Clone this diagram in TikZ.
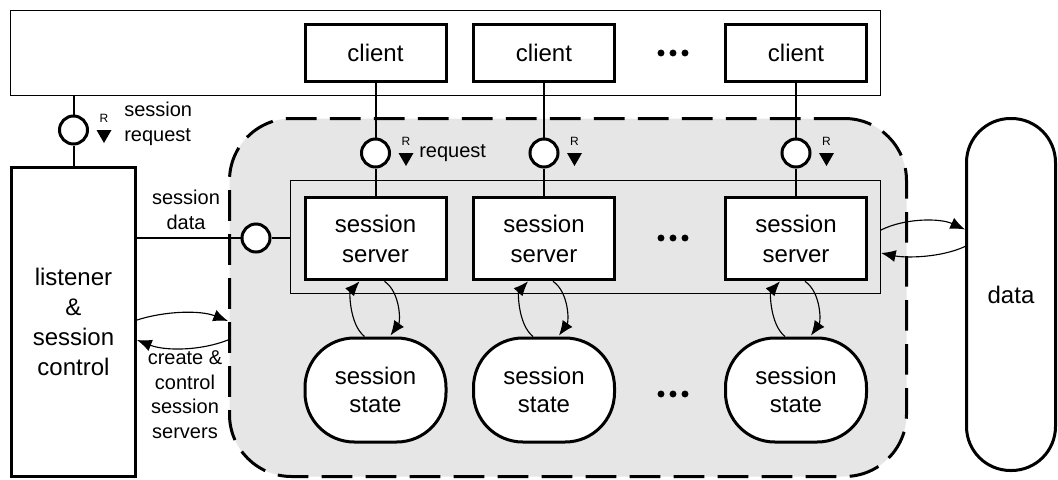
\documentclass[tikz,border=0pt]{standalone}
\usepackage{fontspec}
\setmainfont{Liberation Sans}
\usetikzlibrary{arrows.meta,calc}
\definecolor{poolgray}{RGB}{230,230,230}
% request marker: "R" over a small down-pointing triangle beside a lollipop
\newcommand\reqmark[2]{%
  \node[rlabel] (#2) at ($(#1)+(30.5,-12)$) {R};
  \fill ($(#1)+(23,0)$) -- ($(#1)+(38,0)$) -- ($(#1)+(30.5,13)$) -- cycle;}
\begin{document}
\begin{tikzpicture}[x=0.75pt,y=-0.75pt,
  thickbox/.style={draw,line width=2.25pt,fill=white,inner sep=0pt,align=center,
    font=\fontsize{18}{22.5}\selectfont},
  clientbox/.style={thickbox,minimum width=105.75pt,minimum height=42.75pt},
  serverbox/.style={thickbox,minimum width=105.75pt,minimum height=62pt},
  statebox/.style={thickbox,rounded corners=37pt,minimum width=105.75pt,
    minimum height=78pt,font=\fontsize{18}{21}\selectfont},
  lolli/.style={circle,draw,line width=2.25pt,fill=white,minimum size=21pt,inner sep=0pt},
  wire/.style={line width=1.5pt},
  hairbox/.style={draw,line width=0.75pt,inner sep=0pt},
  flow/.style={line width=0.85pt,-{Latex[length=11pt,width=9pt]}},
  smalltext/.style={font=\fontsize{15}{18.4}\selectfont,inner sep=0pt,align=center},
  rlabel/.style={font=\fontsize{9}{10}\selectfont,inner sep=0pt},
]
\useasboundingbox (0,0) rectangle (1058,479);

% shaded session-server domain
\node[draw,fill=poolgray,line width=2.25pt,dash pattern=on 23pt off 10pt,
  rounded corners=46.5pt,minimum width=507.75pt,minimum height=268.5pt,inner sep=0pt]
  (pool) at (568,297.5) {};

% client area and server group frames
\node[hairbox,minimum width=652.5pt,minimum height=63.75pt] (clients) at (445.5,53) {};
\node[hairbox,minimum width=442.5pt,minimum height=84.75pt] (grp) at (585.5,237) {};

% clients
\node[clientbox] (cl1) at (375.5,53) {client};
\node[clientbox] (cl2) at (544,53) {client};
\node[clientbox] (cl3) at (796,53) {client};

% session servers
\node[serverbox] (sv1) at (375.5,238.5) {session\\server};
\node[serverbox] (sv2) at (544,238.5) {session\\server};
\node[serverbox] (sv3) at (796,238.5) {session\\server};

% session states
\node[statebox] (st1) at (375.5,390) {session\\state};
\node[statebox] (st2) at (544,390) {session\\state};
\node[statebox] (st3) at (796,390) {session\\state};

% listener and data store
\node[thickbox,minimum width=93pt,minimum height=231.75pt,fill=none] (lsn) at (73.5,322)
  {listener\\\&\\session\\control};
\node[thickbox,rounded corners=33pt,minimum width=66.75pt,minimum height=264pt] (data)
  at (1011,294.5) {data};

% lollipop interfaces
\node[lolli] (lp0) at (73.5,130) {};
\node[lolli] (lp1) at (375.5,153) {};
\node[lolli] (lp2) at (544,153) {};
\node[lolli] (lp3) at (796,153) {};
\node[lolli] (lpd) at (256,238) {};

% wires
\draw[wire] (lp0) -- (lp0 |- clients.south);
\draw[wire] (lp0) -- (lp0 |- lsn.north);
\foreach \i in {1,2,3} {
  \draw[wire] (cl\i) -- (lp\i);
  \draw[wire] (lp\i) -- (sv\i);
}
\draw[wire] (lsn.east |- lpd) -- (lpd);
\draw[wire] (lpd) -- (lpd -| grp.west);

% request markers
\reqmark{lp0}{r0}
\reqmark{lp1}{r1}
\reqmark{lp2}{r2}
\reqmark{lp3}{r3}

% labels
\node[smalltext,anchor=west,align=left] (sreq) at (124,124) {session\\request};
\node[smalltext,anchor=west] (req) at (419,153) {request};
\node[smalltext] (sdat) at (186,210) {session\\data};
\node[smalltext] (ctl) at (185,394.5) {create \&\\control\\session\\servers};

% control flow between listener and servers
\draw[flow] ($(lsn.east)+(0,-2)$) .. controls ($(lsn.east)+(28,-11)$) and ($(pool.west)+(-28,12.5)$) .. ($(pool.west)+(0,23.5)$);
\draw[flow] ($(pool.west)+(0,42.5)$) .. controls ($(pool.west)+(-28,53.5)$) and ($(lsn.east)+(28,29)$) .. ($(lsn.east)+(0,18)$);

% server <-> state flows
\foreach \i in {1,2,3} {
  \draw[flow] ($(st\i.north)+(-11,0)$) .. controls ($(st\i.north)+(-26,-12)$) and ($(sv\i.south)+(-26,11)$) .. ($(sv\i.south)+(-16,0)$);
  \draw[flow] ($(sv\i.south)+(9,0)$) .. controls ($(sv\i.south)+(25,11)$) and ($(st\i.north)+(25,-15)$) .. ($(st\i.north)+(15,-1)$);
}

% server group <-> data flows
\draw[flow] ($(grp.east)+(0,-7)$) .. controls ($(grp.east)+(24,-19)$) and ($(data.west)+(-25,-76.5)$) .. ($(data.west)+(0,-65)$);
\draw[flow] ($(data.west)+(0,-48)$) .. controls ($(data.west)+(-25,-36.5)$) and ($(grp.east)+(24,21)$) .. ($(grp.east)+(0,16)$);

% ellipses
\foreach \y in {53,238,394} {
  \foreach \x in {661,673,685} \fill (\x,\y) circle (2.6pt);
}
\end{tikzpicture}
\end{document}
